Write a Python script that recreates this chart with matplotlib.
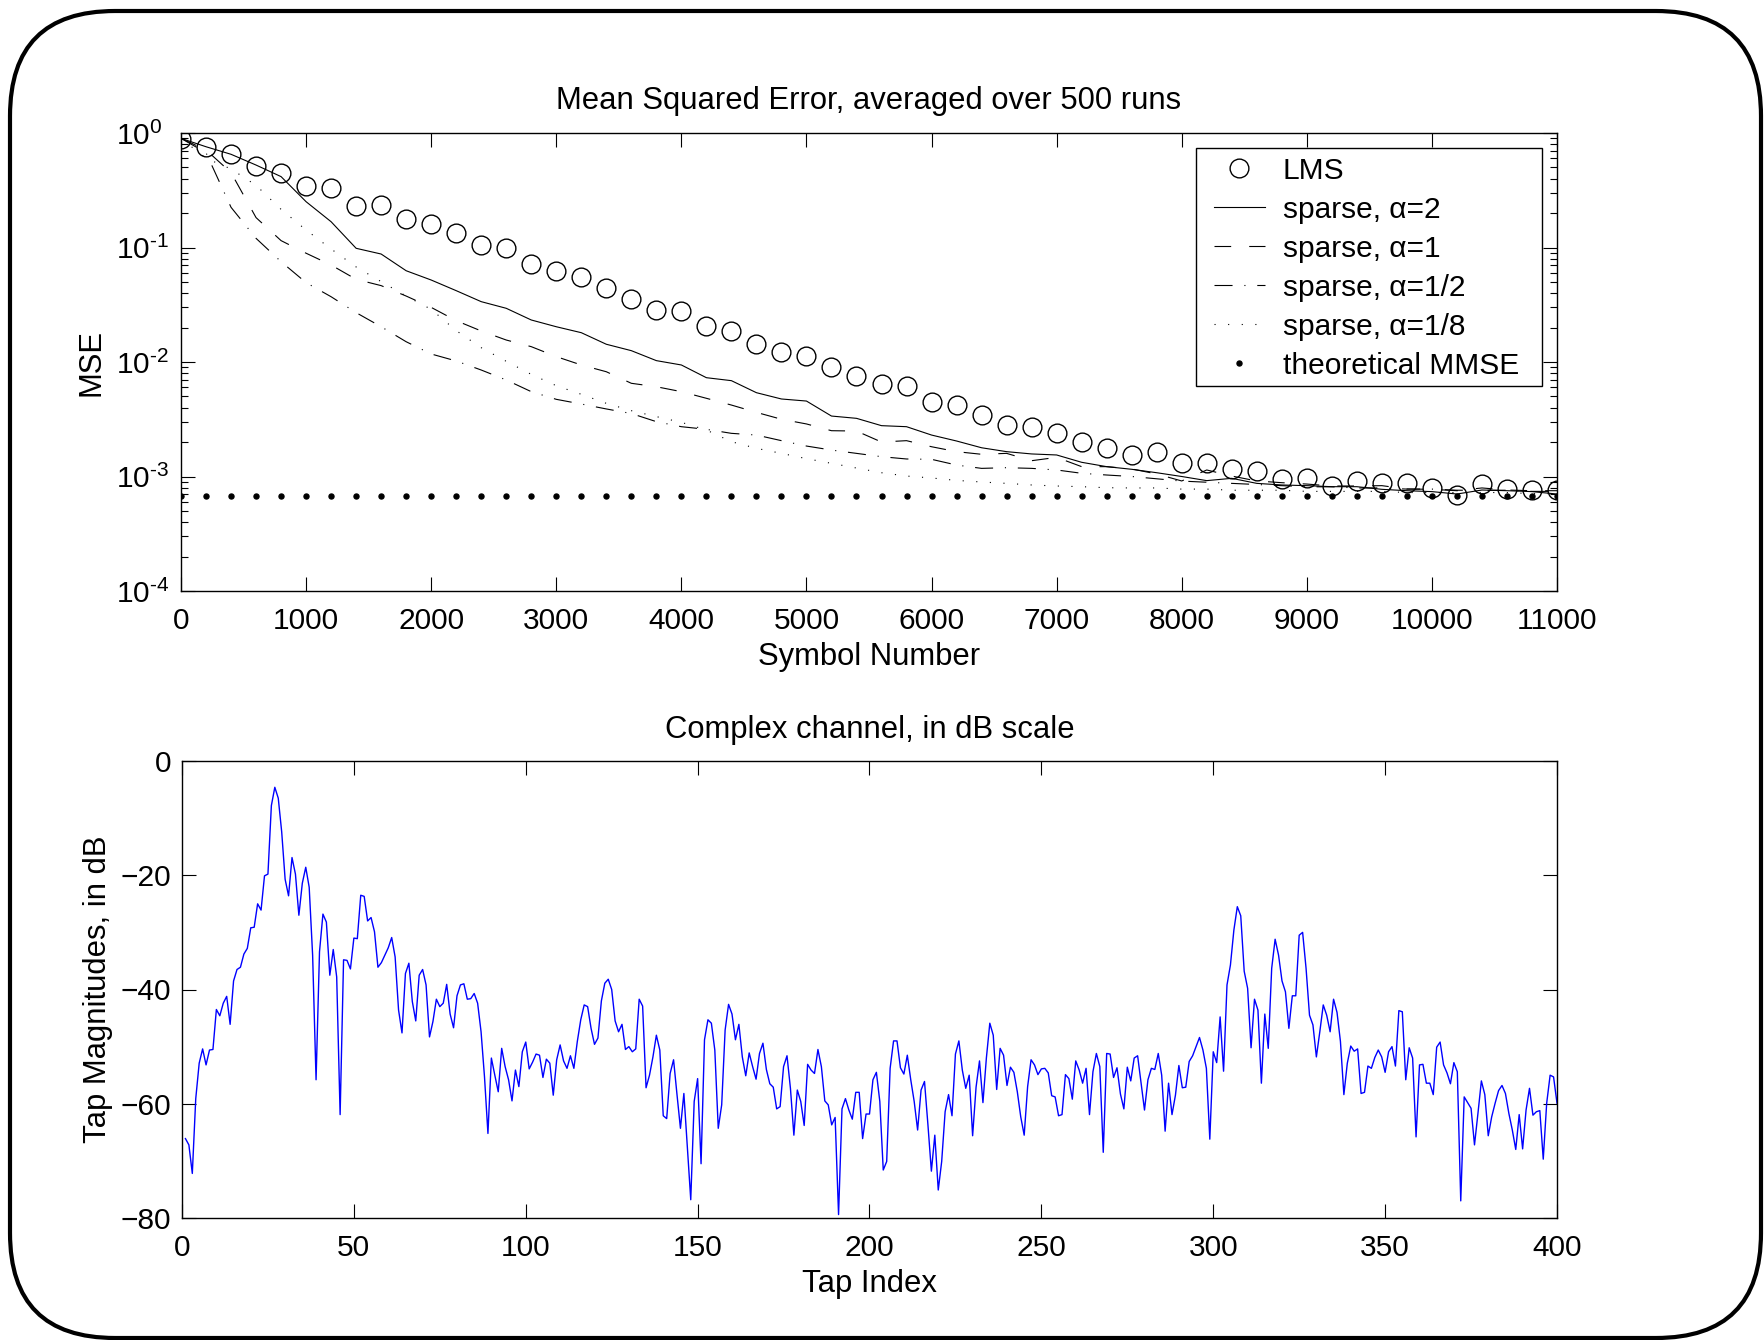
import numpy as np
import matplotlib
matplotlib.use("Agg")
import matplotlib.pyplot as plt
from matplotlib.patches import FancyBboxPatch, Rectangle
from matplotlib.transforms import IdentityTransform
from matplotlib.ticker import FuncFormatter

plt.rcParams['font.family'] = ['Liberation Sans', 'DejaVu Sans']
plt.rcParams['mathtext.fontset'] = 'custom'
plt.rcParams['mathtext.rm'] = 'Liberation Sans'
plt.rcParams['mathtext.it'] = 'Liberation Sans:italic'
plt.rcParams['mathtext.bf'] = 'Liberation Sans:bold'
plt.rcParams['lines.scale_dashes'] = False

# ---------------- data: MSE curves (values given as log10(MSE)) ----------------
symbols = np.arange(0, 11001, 200)

lms_log10 = [-0.055, -0.12, -0.183, -0.288, -0.352, -0.46, -0.483, -0.64, -0.632, -0.748,
             -0.798, -0.876, -0.978, -1.004, -1.144, -1.203, -1.255, -1.351, -1.45, -1.546,
             -1.555, -1.683, -1.729, -1.84, -1.91, -1.945, -2.04, -2.12, -2.195, -2.21,
             -2.347, -2.376, -2.46, -2.547, -2.565, -2.617, -2.696, -2.754, -2.812, -2.789,
             -2.885, -2.879, -2.934, -2.949, -3.022, -3.016, -3.08, -3.036, -3.054, -3.054,
             -3.103, -3.162, -3.066, -3.112, -3.118, -3.118]

sparse2_log10 = [-0.047, -0.12, -0.186, -0.28, -0.381, -0.6, -0.775, -1.007, -1.057, -1.203,
                 -1.284, -1.377, -1.473, -1.531, -1.633, -1.692, -1.744, -1.845, -1.901, -1.988,
                 -2.026, -2.137, -2.163, -2.268, -2.323, -2.341, -2.472, -2.492, -2.556, -2.565,
                 -2.638, -2.69, -2.749, -2.783, -2.803, -2.812, -2.876, -2.914, -2.937, -2.967,
                 -3.0, -3.036, -3.016, -3.06, -3.074, -3.08, -3.089, -3.089, -3.112, -3.124,
                 -3.132, -3.153, -3.118, -3.124, -3.132, -3.153]

sparse1_log10 = [-0.047, -0.148, -0.346, -0.739, -0.94, -1.05, -1.153, -1.278, -1.333, -1.424,
                 -1.523, -1.639, -1.729, -1.808, -1.866, -1.953, -2.026, -2.085, -2.186, -2.216,
                 -2.259, -2.317, -2.376, -2.44, -2.5, -2.541, -2.6, -2.603, -2.699, -2.687,
                 -2.74, -2.783, -2.806, -2.798, -2.862, -2.833, -2.914, -2.914, -2.934, -2.978,
                 -3.039, -2.943, -2.996, -3.039, -3.054, -3.066, -3.083, -3.083, -3.08, -3.109,
                 -3.112, -3.124, -3.10, -3.118, -3.124, -3.124]

sparse_half_log10 = [-0.047, -0.172, -0.649, -0.92, -1.124, -1.307, -1.43, -1.569, -1.692, -1.823,
                     -1.93, -1.991, -2.07, -2.157, -2.259, -2.326, -2.367, -2.41, -2.45, -2.521,
                     -2.565, -2.588, -2.623, -2.638, -2.687, -2.734, -2.769, -2.798, -2.827, -2.847,
                     -2.85, -2.9, -2.929, -2.923, -2.929, -2.943, -2.972, -2.987, -3.00, -3.02,
                     -3.04, -3.05, -3.06, -3.07, -3.08, -3.09, -3.09, -3.10, -3.10, -3.11,
                     -3.11, -3.12, -3.12, -3.12, -3.13, -3.13]

sparse_eighth_log10 = [-0.047, -0.221, -0.314, -0.457, -0.667, -0.847, -1.013, -1.17, -1.298, -1.424,
                       -1.54, -1.726, -1.875, -1.994, -2.108, -2.207, -2.282, -2.361, -2.425, -2.477,
                       -2.527, -2.594, -2.696, -2.754, -2.798, -2.844, -2.885, -2.926, -2.967, -2.996,
                       -3.013, -3.034, -3.048, -3.06, -3.074, -3.083, -3.089, -3.098, -3.10, -3.10,
                       -3.11, -3.11, -3.12, -3.12, -3.12, -3.13, -3.13, -3.13, -3.13, -3.14,
                       -3.14, -3.14, -3.14, -3.14, -3.15, -3.15]

mmse_value = 6.8e-4

legend_labels = ['LMS', 'sparse, α=2', 'sparse, α=1', 'sparse, α=1/2',
                 'sparse, α=1/8', 'theoretical MMSE']

# ---------------- data: channel tap magnitudes (dB), taps 1..400 ----------------
tap_db = [
    -66.1, -67.2, -72.2, -59.1, -52.9, -50.4, -53.2, -50.6, -50.5, -43.5,
    -44.6, -42.4, -41.2, -46.1, -38.5, -36.5, -36.1, -33.8, -32.8, -29.2,
    -29.1, -25.0, -26.1, -20.1, -19.8, -7.8, -4.6, -6.5, -12.4, -20.7,
    -23.6, -16.9, -19.8, -27.0, -21.4, -18.6, -22.1, -34.0, -55.8, -33.4,
    -26.8, -28.2, -37.5, -33.0, -37.8, -61.9, -34.8, -34.9, -36.4, -31.0,
    -31.1, -23.5, -23.7, -28.0, -27.4, -29.9, -36.1, -35.3, -34.0, -32.7,
    -30.9, -34.3, -43.6, -47.6, -37.2, -35.4, -42.1, -45.5, -37.5, -36.5,
    -39.2, -48.3, -45.6, -41.7, -43.0, -42.4, -39.1, -44.3, -46.7, -41.1,
    -39.2, -39.0, -41.7, -41.6, -40.7, -42.4, -47.4, -55.3, -65.2, -52.0,
    -55.0, -57.9, -50.3, -53.5, -55.8, -59.5, -54.1, -57.0, -50.9, -49.2,
    -53.9, -52.7, -51.3, -51.5, -55.4, -52.2, -52.9, -58.5, -52.3, -49.7,
    -52.5, -53.8, -51.6, -53.8, -49.1, -45.3, -42.7, -43.0, -46.8, -49.6,
    -48.5, -42.0, -38.9, -38.2, -40.0, -45.5, -47.4, -46.1, -50.5, -50.0,
    -50.9, -50.4, -41.7, -42.9, -57.2, -55.0, -51.8, -48.0, -50.6, -62.1,
    -62.6, -54.7, -52.3, -58.4, -64.3, -58.2, -67.5, -76.8, -59.6, -55.6,
    -70.5, -48.8, -45.3, -45.9, -50.6, -64.3, -60.2, -47.1, -42.6, -44.3,
    -48.8, -46.1, -51.8, -55.1, -51.1, -53.5, -55.7, -51.2, -49.4, -54.0,
    -56.5, -57.1, -60.9, -60.5, -53.5, -51.6, -57.3, -65.5, -57.6, -59.6,
    -63.8, -53.1, -54.1, -54.7, -50.5, -53.5, -59.5, -60.2, -63.7, -62.4,
    -79.4, -60.9, -59.1, -61.1, -62.7, -58.0, -58.0, -66.1, -61.8, -61.8,
    -55.8, -54.5, -59.6, -71.6, -70.1, -53.8, -49.0, -49.0, -53.7, -54.8,
    -51.5, -55.8, -59.6, -64.6, -57.6, -56.1, -63.7, -71.8, -65.5, -75.1,
    -70.1, -61.4, -58.4, -62.1, -51.3, -49.0, -54.1, -57.3, -55.0, -65.6,
    -57.1, -52.5, -59.8, -52.0, -45.9, -48.0, -57.5, -50.3, -51.5, -56.8,
    -53.6, -54.5, -57.9, -62.3, -65.5, -57.0, -52.3, -53.2, -54.9, -53.9,
    -53.8, -54.6, -58.6, -58.8, -62.1, -61.9, -54.9, -55.6, -59.2, -52.5,
    -54.1, -56.4, -53.8, -61.9, -54.4, -51.2, -53.5, -68.5, -51.2, -51.3,
    -55.4, -53.7, -58.3, -60.9, -53.6, -56.0, -52.0, -51.6, -56.4, -61.1,
    -55.8, -53.8, -54.0, -51.2, -55.0, -64.8, -56.4, -61.9, -58.5, -53.3,
    -57.2, -57.1, -52.6, -51.6, -50.0, -48.4, -50.6, -53.8, -66.2, -50.9,
    -52.8, -44.8, -54.3, -39.2, -35.7, -29.6, -25.5, -27.1, -36.8, -39.8,
    -50.2, -41.7, -43.6, -56.4, -44.3, -50.3, -36.3, -31.2, -34.0, -38.5,
    -40.4, -46.8, -41.1, -41.1, -30.5, -30.0, -36.3, -44.5, -46.2, -51.8,
    -47.4, -42.7, -44.5, -47.4, -41.7, -44.0, -49.1, -58.4, -52.9, -49.9,
    -50.8, -50.4, -58.2, -58.0, -53.4, -53.8, -51.9, -50.6, -51.8, -54.5,
    -50.9, -50.0, -53.4, -43.7, -43.9, -55.8, -50.2, -52.0, -65.8, -53.2,
    -53.1, -56.4, -56.4, -58.4, -50.1, -49.2, -53.2, -54.6, -56.5, -52.8,
    -54.4, -77.0, -58.8, -59.8, -60.8, -67.2, -61.7, -56.0, -58.4, -65.6,
    -62.3, -59.9, -57.7, -56.8, -58.2, -61.7, -64.6, -68.0, -61.9, -67.9,
    -61.1, -57.3, -62.0, -61.4, -61.2, -69.7, -59.9, -55.0, -55.3, -59.9]
taps = np.arange(1, len(tap_db) + 1)

# ---------------- figure ----------------
W, H = 1764, 1340
fig = plt.figure(figsize=(W / 100, H / 100), dpi=100)
FS = 21.5      # tick labels / legend
FT = 22.3      # titles / axis labels

# rounded frame
frame = FancyBboxPatch((10, 2), 1751, 1327,
                       boxstyle="round,pad=0,rounding_size=105",
                       transform=IdentityTransform(), facecolor='none',
                       edgecolor='black', linewidth=3.0, zorder=0)
fig.patches.append(frame)

def style_axes(ax):
    for s in ax.spines.values():
        s.set_linewidth(1.0)
    ax.tick_params(which='both', direction='in', top=True, right=True,
                   labelsize=FS, width=0.8, pad=8)
    ax.tick_params(axis='x', which='major', pad=11.2)
    ax.tick_params(which='major', length=10)
    ax.tick_params(which='minor', length=5)

def pow10_fmt(v, pos):
    e = int(round(np.log10(v)))
    if e < 0:
        return r'$\mathdefault{10^{\text{-%d}}}$' % (-e)
    return r'$\mathdefault{10^{%d}}$' % e

# ---- top axes ----
ax1 = fig.add_axes([181 / W, 1 - 591 / H, 1376 / W, 458 / H])
lw = 0.8
ax1.plot(symbols, 10 ** np.array(lms_log10), linestyle='none', marker='o',
         markersize=13.5, markerfacecolor='none', markeredgecolor='black',
         markeredgewidth=1.0, label=legend_labels[0])
ax1.plot(symbols, 10 ** np.array(sparse2_log10), color='black', lw=lw,
         linestyle='-', label=legend_labels[1])
ax1.plot(symbols, 10 ** np.array(sparse1_log10), color='black', lw=lw,
         linestyle=(0, (12, 13)), label=legend_labels[2])
ax1.plot(symbols, 10 ** np.array(sparse_half_log10), color='black', lw=lw,
         linestyle=(0, (13, 8.5, 0.8, 8.5)), label=legend_labels[3])
ax1.plot(symbols, 10 ** np.array(sparse_eighth_log10), color='black', lw=lw,
         linestyle=(0, (0.8, 9)), label=legend_labels[4])
ax1.plot(symbols, np.full(len(symbols), mmse_value), linestyle='none',
         marker='o', markersize=3.6, color='black', label=legend_labels[5])

ax1.set_yscale('log')
ax1.set_xlim(0, 11000)
ax1.set_ylim(1e-4, 1)
ax1.set_xticks(np.arange(0, 11001, 1000))
ax1.set_yticks([1e-4, 1e-3, 1e-2, 1e-1, 1])
style_axes(ax1)
ax1.yaxis.set_major_formatter(FuncFormatter(pow10_fmt))
ax1.tick_params(axis='y', which='major', pad=46.8)
for lab in ax1.get_yticklabels():
    lab.set_horizontalalignment('left')
ax1.set_title('Mean Squared Error, averaged over 500 runs', fontsize=FT, pad=17.2)
ax1.set_xlabel('Symbol Number', fontsize=FT)
ax1.set_ylabel('MSE', fontsize=FT)
ax1.xaxis.set_label_coords(0.5, -0.112)
ax1.yaxis.set_label_coords(-0.0544, 0.5)

# legend: content placed without frame, frame drawn as a separate box
leg = ax1.legend(loc='upper left', bbox_to_anchor=(0.7507, 0.9478),
                 borderaxespad=0, borderpad=0, fontsize=FS, frameon=False,
                 handlelength=1.7, handletextpad=0.6, labelspacing=0.368)
leg.set_zorder(6)
ax1.add_patch(Rectangle((0.738, 0.4476), 0.989 - 0.738, 0.967 - 0.4476,
                        transform=ax1.transAxes, facecolor='white',
                        edgecolor='black', linewidth=1.0, zorder=5))

# ---- bottom axes ----
ax2 = fig.add_axes([182 / W, 1 - 1218 / H, 1375 / W, 457 / H])
ax2.plot(taps, tap_db, color='#0000ff', lw=1.0)
ax2.set_xlim(0, 400)
ax2.set_ylim(-80, 0)
ax2.set_xticks(np.arange(0, 401, 50))
ax2.set_yticks(np.arange(-80, 1, 20))
style_axes(ax2)
ax2.set_title('Complex channel, in dB scale', fontsize=FT, pad=16.8)
ax2.set_xlabel('Tap Index', fontsize=FT)
ax2.set_ylabel('Tap Magnitudes, in dB', fontsize=FT)
ax2.xaxis.set_label_coords(0.5, -0.112)
ax2.yaxis.set_label_coords(-0.050, 0.5)

fig.savefig('out.png', dpi=100, facecolor='white')
